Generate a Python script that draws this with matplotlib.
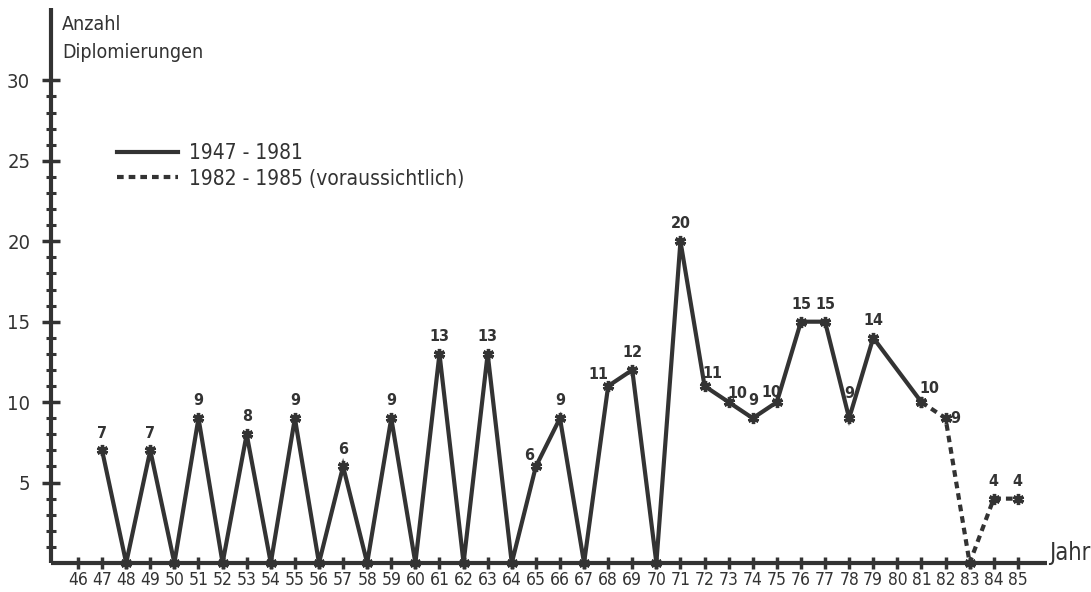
import matplotlib.pyplot as plt
from matplotlib.ticker import FixedLocator

# Anzahl Diplomierungen pro Jahr (0 = keine Diplomierung)
years = [47, 48, 49, 50, 51, 52, 53, 54, 55, 56, 57, 58, 59, 60, 61, 62, 63, 64,
         65, 66, 67, 68, 69, 70, 71, 72, 73, 74, 75, 76, 77, 78, 79, 81, 82, 83, 84, 85]
counts = [7, 0, 7, 0, 9, 0, 8, 0, 9, 0, 6, 0, 9, 0, 13, 0, 13, 0,
          6, 9, 0, 11, 12, 0, 20, 11, 10, 9, 10, 15, 15, 9, 14, 10, 9, 0, 4, 4]
last_actual = 81  # ab 1982 voraussichtlich
tick_years = list(range(46, 86))
y_major = [5, 10, 15, 20, 25, 30]
legend_labels = ["1947 - 1981", "1982 - 1985 (voraussichtlich)"]

# label offsets in points, where the hand lettering is not straight above the point
label_offsets = {65: (-5, 8), 68: (-7, 8), 72: (6, 9), 73: (6, 6), 75: (-4, 7),
                 78: (0, 18), 81: (6, 10), 82: (7, 0)}

INK = "#333333"
FONT = dict(family="DejaVu Sans", fontstretch="condensed")

fig = plt.figure(figsize=(10.91, 5.92), dpi=100)
ax = fig.add_axes([51 / 1091, 29 / 592, 996 / 1091, 555 / 592])

solid_x = [y for y in years if y <= last_actual]
solid_y = [c for y, c in zip(years, counts) if y <= last_actual]
dash_x = [y for y in years if y >= last_actual]
dash_y = [c for y, c in zip(years, counts) if y >= last_actual]

style = dict(color=INK, marker=(6, 2, 0), markersize=8, markeredgewidth=2.4,
             clip_on=False, solid_joinstyle="miter")
l1, = ax.plot(solid_x, solid_y, lw=3, **style)
l2, = ax.plot(dash_x, dash_y, lw=3, linestyle=(0, (1.6, 1.2)), **style)

for yr, c in zip(years, counts):
    if c == 0:
        continue
    dx, dy = label_offsets.get(yr, (0, 12.5))
    ax.annotate(str(c), (yr, c), xytext=(dx, dy), textcoords="offset points",
                ha="center", va="center", fontsize=11.5, fontweight="bold",
                color=INK, **FONT)

ax.set_xlim(44.88, 86.21)
ax.set_ylim(0, 34.5)

for side in ("top", "right"):
    ax.spines[side].set_visible(False)
for side in ("left", "bottom"):
    ax.spines[side].set_linewidth(3)
    ax.spines[side].set_color(INK)
    ax.spines[side].set_capstyle("butt")

ax.set_xticks(tick_years)
ax.set_xticklabels([str(t) for t in tick_years], fontsize=12.5, color=INK, **FONT)
ax.tick_params(axis="x", direction="inout", length=8, width=2.5, color=INK, pad=2)

ax.set_yticks(y_major)
ax.set_yticklabels([str(t) for t in y_major], fontsize=14.5, color=INK, **FONT)
ax.yaxis.set_minor_locator(FixedLocator([v for v in range(1, 30) if v % 5]))
ax.tick_params(axis="y", which="major", direction="inout", length=13, width=2.5,
               color=INK, pad=8.5)
ax.tick_params(axis="y", which="minor", direction="inout", length=7, width=2.2,
               color=INK)

fig.text(62 / 1091, 1 - 24 / 592, "Anzahl", fontsize=14, color=INK,
         va="center", ha="left", **FONT)
fig.text(62 / 1091, 1 - 52 / 592, "Diplomierungen", fontsize=14, color=INK,
         va="center", ha="left", **FONT)
fig.text(1049 / 1091, 1 - 553 / 592, "Jahr", fontsize=17, color=INK,
         va="center", ha="left", **FONT)

ax.legend([l1, l2], legend_labels, loc="center left",
          bbox_to_anchor=(117 / 1091, 1 - 166 / 592), bbox_transform=fig.transFigure,
          frameon=False, borderpad=0, borderaxespad=0, handlelength=2.95,
          handletextpad=0.5, labelspacing=0.25,
          prop={"family": "DejaVu Sans", "stretch": "condensed", "size": 15})
for h in ax.get_legend().legend_handles:
    h.set_marker("")
for t in ax.get_legend().get_texts():
    t.set_color(INK)

fig.savefig("out.png", dpi=100)
